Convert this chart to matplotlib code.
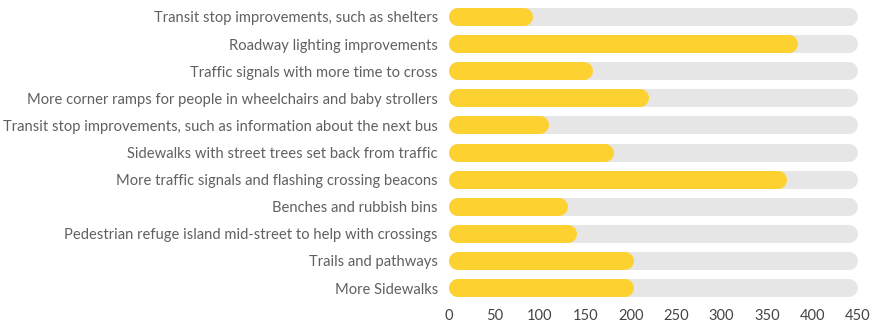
import matplotlib
matplotlib.use("Agg")
import matplotlib.pyplot as plt

# Survey responses: number of people choosing each improvement
categories = [
    "Transit stop improvements, such as shelters",
    "Roadway lighting improvements",
    "Traffic signals with more time to cross",
    "More corner ramps for people in wheelchairs and baby strollers",
    "Transit stop improvements, such as information about the next bus",
    "Sidewalks with street trees set back from traffic",
    "More traffic signals and flashing crossing beacons",
    "Benches and rubbish bins",
    "Pedestrian refuge island mid-street to help with crossings",
    "Trails and pathways",
    "More Sidewalks",
]
values = [92, 384, 158, 220, 110, 182, 372, 131, 141, 203, 203]
x_max = 450
x_ticks = [0, 50, 100, 150, 200, 250, 300, 350, 400, 450]

yellow = "#FDD230"
track = "#E6E6E6"
text_color = "#606060"

plt.rcParams["font.family"] = ["Lato", "DejaVu Sans"]

fig = plt.figure(figsize=(8.86, 3.23), dpi=100)
ax = fig.add_axes([449 / 886, 20 / 323, 409 / 886, 301 / 323])
ax.set_xlim(0, x_max)
ax.set_ylim(len(categories) - 0.45, -0.55)

# bars are drawn as thick lines with round caps; offset ends by the cap radius
bar_px = 18
lw_pt = bar_px * 72 / fig.dpi
px_per_unit = 409 / x_max
r = (bar_px / 2) / px_per_unit

for i, v in enumerate(values):
    ax.plot([r, x_max - r], [i, i], color=track, lw=lw_pt,
            solid_capstyle="round", zorder=1)
    ax.plot([r, max(v - r, r)], [i, i], color=yellow, lw=lw_pt,
            solid_capstyle="round", zorder=2)

ax.set_yticks(range(len(categories)))
ax.set_yticklabels(categories, fontsize=10.6, color=text_color)
ax.set_xticks(x_ticks)
ax.set_xticklabels([str(t) for t in x_ticks], fontsize=10.5, color="#444444")
ax.tick_params(axis="y", length=0, pad=8)
ax.tick_params(axis="x", length=0, pad=4)
for s in ax.spines.values():
    s.set_visible(False)

fig.savefig("out.png", dpi=100)
